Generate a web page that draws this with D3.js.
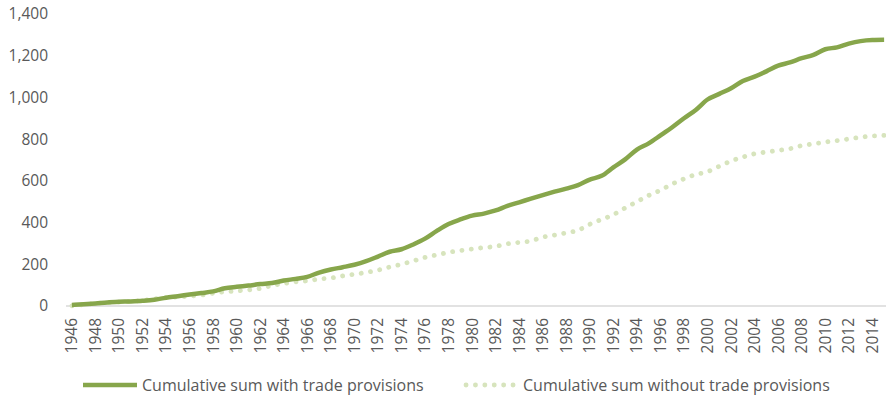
<!DOCTYPE html>
<html>
<head>
<meta charset="utf-8">
<script src="https://cdn.jsdelivr.net/npm/d3@7/dist/d3.min.js"></script>
<style>
  html, body { margin: 0; padding: 0; background: #fff; }
  svg { display: block; }
  text { font-family: "Open Sans", "Noto Sans", sans-serif; fill: #595959; }
</style>
</head>
<body>
<svg id="chart" width="886" height="398"></svg>
<script>
// Years on the category axis
const years = d3.range(1946, 2016);

// Cumulative number of agreements, one value per year
const withTrade = [
  5, 8, 12, 17, 20, 22, 25, 30, 40, 47,
  55, 62, 70, 85, 92, 98, 105, 110, 122, 130,
  140, 160, 175, 186, 198, 215, 237, 260, 272, 295,
  323, 360, 393, 415, 433, 443, 458, 480, 497, 515,
  532, 548, 563, 580, 606, 624, 665, 703, 750, 780,
  818, 857, 900, 940, 990, 1017, 1044, 1079, 1100, 1125,
  1152, 1168, 1188, 1204, 1231, 1240, 1258, 1270, 1275, 1276
];
const withoutTrade = [
  1, 7, 12, 16, 19, 22, 27, 34, 40, 43,
  47, 52, 61, 68, 72, 77, 84, 98, 108, 116,
  121, 129, 134, 144, 152, 161, 172, 187, 200, 216,
  233, 245, 257, 266, 273, 280, 286, 298, 305, 312,
  330, 340, 351, 363, 392, 415, 438, 470, 500, 530,
  555, 585, 610, 630, 644, 670, 695, 714, 730, 738,
  746, 754, 769, 777, 786, 793, 801, 809, 815, 818
];

// Axis ticks
const yTicks = [0, 200, 400, 600, 800, 1000, 1200, 1400];
const xTickYears = years.filter(y => y % 2 === 0);

const seriesNames = ["Cumulative sum with trade provisions", "Cumulative sum without trade provisions"];
const colorDark = "#87a64b";
const colorLight = "#d7e4bd";

const svg = d3.select("#chart");

const x = d3.scaleBand().domain(years).range([66, 890]).padding(0);
const y = d3.scaleLinear().domain([0, 1400]).range([306, 14]);
const cx = yr => x(yr) + x.bandwidth() / 2;

// Y axis labels
const yAxis = svg.append("g")
  .attr("transform", "translate(48,0)")
  .call(d3.axisLeft(y).tickValues(yTicks).tickSize(0).tickPadding(0)
    .tickFormat(d3.format(",")));
yAxis.select(".domain").remove();
yAxis.selectAll("text")
  .style("font-family", "'Open Sans', sans-serif")
  .style("font-size", "15.5px")
  .attr("fill", "#595959");

// X axis line
svg.append("line")
  .attr("x1", 66).attr("x2", 886)
  .attr("y1", y(0)).attr("y2", y(0))
  .attr("stroke", "#d9d9d9").attr("stroke-width", 1.5);

// X axis labels, rotated
const xAxis = svg.append("g")
  .attr("transform", `translate(0,${y(0)})`)
  .call(d3.axisBottom(x).tickValues(xTickYears).tickSize(0).tickPadding(0));
xAxis.select(".domain").remove();
xAxis.selectAll("text")
  .style("font-family", "'Open Sans', sans-serif")
  .style("font-size", "15.5px")
  .attr("fill", "#595959")
  .attr("text-anchor", "end")
  .attr("transform", "translate(0,12) rotate(-90)")
  .attr("x", 0)
  .attr("y", 0)
  .attr("dy", "0.35em");

const line = d3.line()
  .x((d, i) => cx(years[i]))
  .y(d => y(d))
  .curve(d3.curveMonotoneX);

// Series without trade provisions (dotted)
svg.append("path")
  .datum(withoutTrade)
  .attr("d", line)
  .attr("fill", "none")
  .attr("stroke", colorLight)
  .attr("stroke-width", 4.8)
  .attr("stroke-linecap", "round")
  .attr("stroke-dasharray", "0.1 9.3");

// Series with trade provisions (solid)
svg.append("path")
  .datum(withTrade)
  .attr("d", line)
  .attr("fill", "none")
  .attr("stroke", colorDark)
  .attr("stroke-width", 4.5)
  .attr("stroke-linejoin", "round")
  .attr("stroke-linecap", "butt");

// Legend
const legendY = 385;
const legend = svg.append("g");
legend.append("line")
  .attr("x1", 83).attr("x2", 137).attr("y1", legendY).attr("y2", legendY)
  .attr("stroke", colorDark).attr("stroke-width", 4.5);
legend.append("text")
  .attr("x", 142).attr("y", legendY).attr("dy", "0.35em")
  .style("font-size", "16px")
  .text(seriesNames[0]);
legend.append("line")
  .attr("x1", 466).attr("x2", 514).attr("y1", legendY).attr("y2", legendY)
  .attr("stroke", colorLight).attr("stroke-width", 4.8)
  .attr("stroke-linecap", "round").attr("stroke-dasharray", "0.1 9.3");
legend.append("text")
  .attr("x", 523).attr("y", legendY).attr("dy", "0.35em")
  .style("font-size", "16px")
  .text(seriesNames[1]);
</script>
</body>
</html>
